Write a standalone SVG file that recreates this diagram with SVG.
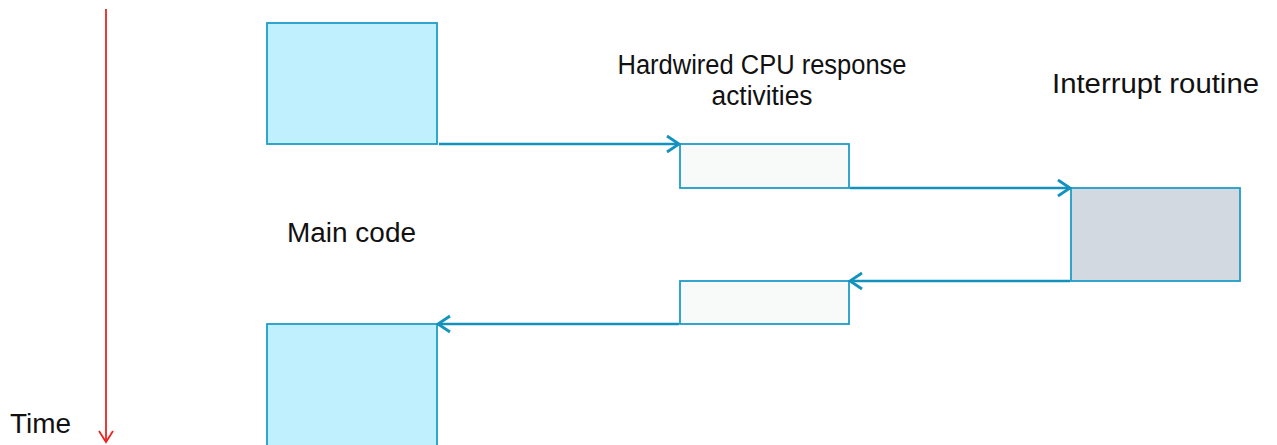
<svg xmlns="http://www.w3.org/2000/svg" width="1277" height="445" viewBox="0 0 1277 445">
  <style>
    .label { font-family: "Liberation Sans", Arial, sans-serif; font-size: 27px; fill: #111111; }
    .box { stroke: #1E9DC8; stroke-width: 1.8; }
    .main { fill: #C0EFFD; }
    .hw { fill: #F8F9F9; }
    .isr { fill: #D2D9E0; }
    .flow { fill: none; stroke: #1492BE; stroke-width: 2.6; }
  </style>
  <defs>
    <marker id="open-arrow" markerUnits="userSpaceOnUse" markerWidth="18" markerHeight="20" refX="14" refY="10" orient="auto" viewBox="0 0 18 20">
      <path d="M2,2 L14,10 L2,18" fill="none" stroke="#1492BE" stroke-width="2.8"/>
    </marker>
    <marker id="time-arrow" markerUnits="userSpaceOnUse" markerWidth="16" markerHeight="18" refX="13" refY="9" orient="auto" viewBox="0 0 16 18">
      <path d="M2,2 L13,9 L2,16" fill="none" stroke="#EE2222" stroke-width="1.8"/>
    </marker>
  </defs>

  <!-- time axis -->
  <g id="time-axis">
    <line x1="106" y1="9" x2="106" y2="442" stroke="#EE2222" stroke-width="1.8" marker-end="url(#time-arrow)"/>
    <text class="label" x="10" y="433" textLength="61" lengthAdjust="spacingAndGlyphs">Time</text>
  </g>

  <!-- main code before the interrupt -->
  <g id="main-code-before">
    <rect class="box main" x="267" y="23" width="170" height="121"/>
  </g>

  <!-- hardwired entry activities -->
  <g id="hw-entry">
    <rect class="box hw" x="680" y="144" width="169" height="44"/>
  </g>

  <!-- interrupt routine -->
  <g id="interrupt-routine">
    <rect class="box isr" x="1071" y="188" width="169" height="93"/>
  </g>

  <!-- hardwired exit activities -->
  <g id="hw-exit">
    <rect class="box hw" x="680" y="281" width="169" height="43"/>
  </g>

  <!-- main code resumed -->
  <g id="main-code-after">
    <rect class="box main" x="267" y="324" width="170" height="130"/>
  </g>

  <!-- labels -->
  <g id="labels">
    <text class="label" x="762" y="74" text-anchor="middle" textLength="289" lengthAdjust="spacingAndGlyphs">Hardwired CPU response</text>
    <text class="label" x="762" y="105" text-anchor="middle" textLength="101" lengthAdjust="spacingAndGlyphs">activities</text>
    <text class="label" x="287" y="242" textLength="129" lengthAdjust="spacingAndGlyphs">Main code</text>
    <text class="label" x="1052" y="93" textLength="207" lengthAdjust="spacingAndGlyphs">Interrupt routine</text>
  </g>

  <!-- control flow connectors -->
  <g id="connectors">
    <line class="flow" x1="439" y1="144" x2="679" y2="144" marker-end="url(#open-arrow)"/>
    <line class="flow" x1="850" y1="188" x2="1070" y2="188" marker-end="url(#open-arrow)"/>
    <line class="flow" x1="1070" y1="281" x2="850" y2="281" marker-end="url(#open-arrow)"/>
    <line class="flow" x1="679" y1="324" x2="438" y2="324" marker-end="url(#open-arrow)"/>
  </g>
</svg>
